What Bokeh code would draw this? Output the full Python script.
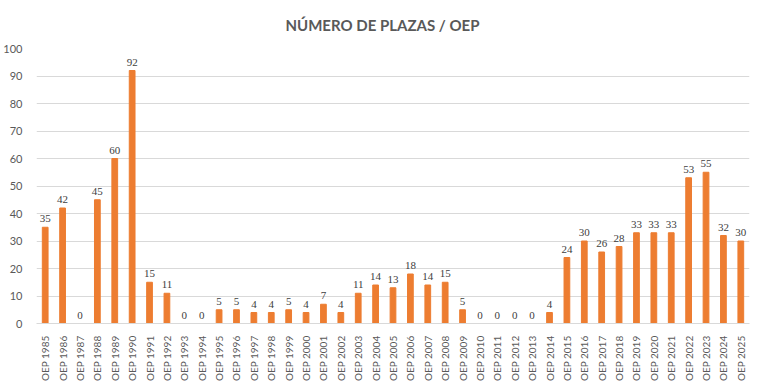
from bokeh.plotting import figure
from bokeh.models import ColumnDataSource, LabelSet, Title, FixedTicker
from bokeh.embed import file_html
from bokeh.resources import INLINE

years = list(range(1985, 2026))
categories = [f"OEP {y}" for y in years]
plazas = [35, 42, 0, 45, 60, 92, 15, 11, 0, 0, 5, 5, 4, 4, 5, 4, 7, 4, 11, 14,
          13, 18, 14, 15, 5, 0, 0, 0, 0, 4, 24, 30, 26, 28, 33, 33, 33, 53, 55, 32, 30]
y_ticks = list(range(0, 101, 10))
title_text = "NÚMERO DE PLAZAS / OEP"

FONT = "Lato"
GRAY = "#595959"

src = ColumnDataSource(dict(cat=categories, val=plazas, lab=[str(v) for v in plazas]))

p = figure(x_range=categories, y_range=(0, 100), frame_width=713, frame_height=275,
           output_backend="svg", toolbar_location=None,
           min_border_left=28, min_border_right=11, min_border_top=48, min_border_bottom=10)
p.title = None
t = Title(text=title_text, align="left", vertical_align="top", text_font=FONT,
          text_font_size="15px", text_font_style="bold", text_color=GRAY,
          offset=249, standoff=26)
p.add_layout(t, "above")

p.vbar(x="cat", top="val", width=0.33, source=src, color="#ED7D31")

labels = LabelSet(x="cat", y="val", text="lab", source=src, text_align="center",
                  text_baseline="bottom", y_offset=5, text_font=FONT,
                  text_font_size="11px", text_color="#404040")
p.add_layout(labels)

p.outline_line_color = None
p.background_fill_color = "white"
p.border_fill_color = "white"

p.xgrid.grid_line_color = None
p.ygrid.grid_line_color = "#D9D9D9"
p.ygrid.ticker = FixedTicker(ticks=y_ticks)
p.yaxis.ticker = FixedTicker(ticks=y_ticks)

p.yaxis.axis_line_color = None
p.yaxis.major_tick_line_color = None
p.yaxis.minor_tick_line_color = None
p.yaxis.major_label_text_font = FONT
p.yaxis.major_label_text_font_size = "11px"
p.yaxis.major_label_text_color = GRAY
p.yaxis.major_label_standoff = 8

p.xaxis.axis_line_color = "#D9D9D9"
p.xaxis.major_tick_line_color = None
p.xaxis.minor_tick_line_color = None
p.xaxis.major_label_orientation = 1.5707963
p.xaxis.major_label_text_font = FONT
p.xaxis.major_label_text_font_size = "10px"
p.xaxis.major_label_text_color = GRAY
p.xaxis.major_label_standoff = 6
p.x_range.range_padding = 0

open("out.html", "w").write(file_html(p, INLINE))
